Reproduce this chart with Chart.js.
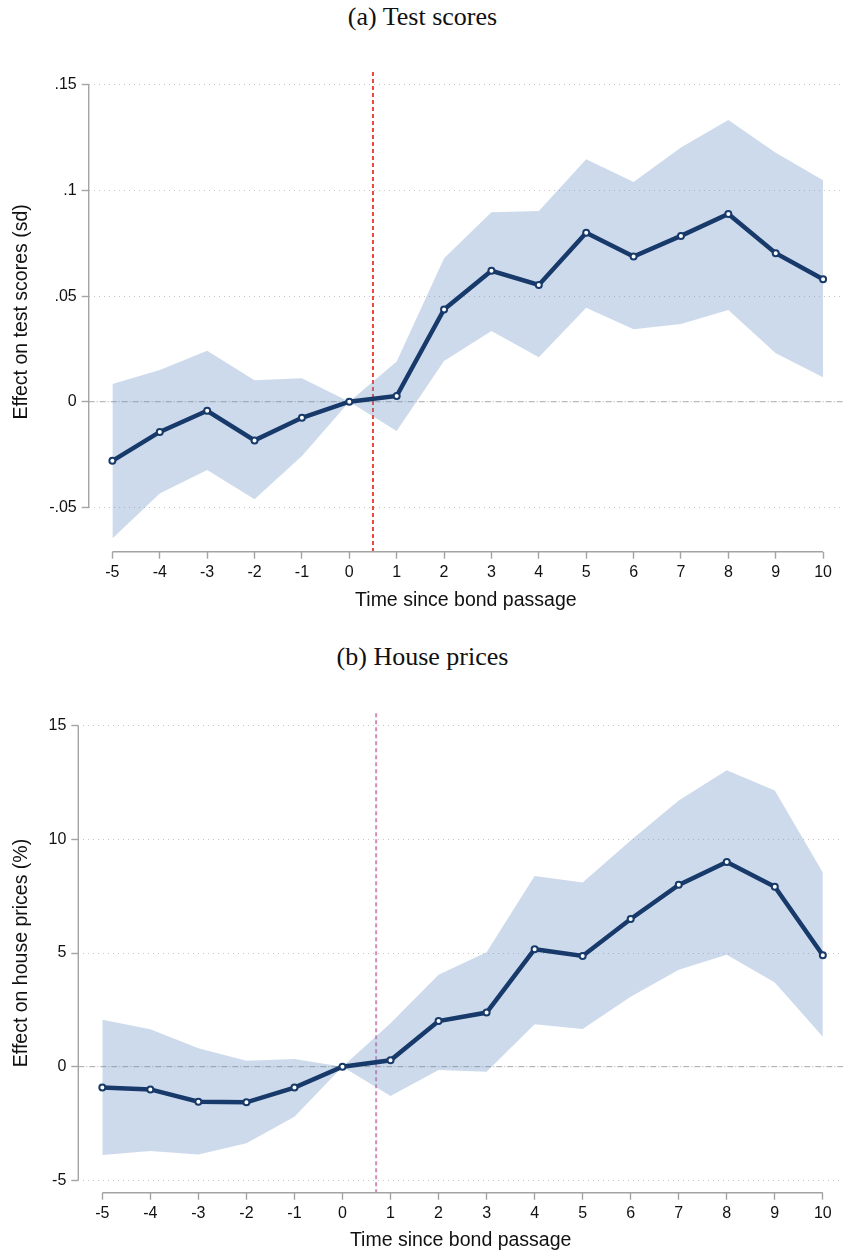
<!DOCTYPE html>
<html>
<head>
<meta charset="utf-8">
<script src="https://cdn.jsdelivr.net/npm/chart.js@4.4.1/dist/chart.umd.min.js"></script>
<style>
    body { margin: 0; background: #fff; overflow: hidden; }
    .panel-title {
        position: absolute; left: 0; width: 845px; text-align: center;
        font-family: "Liberation Serif", "DejaVu Serif", serif; font-size: 26px;
        line-height: 30px; color: #111;
    }
    .chart-box { position: absolute; left: 0; width: 845px; }
</style>
</head>
<body>
<div class="panel-title" style="top:2px">(a) Test scores</div>
<div class="chart-box" style="top:0"><canvas id="testChart" width="845" height="617"></canvas></div>
<div class="panel-title" style="top:642px">(b) House prices</div>
<div class="chart-box" style="top:617px"><canvas id="houseChart" width="845" height="640"></canvas></div>
<script>
// Event time (years since bond passage)
const years = [-5, -4, -3, -2, -1, 0, 1, 2, 3, 4, 5, 6, 7, 8, 9, 10];

// Panel (a): test scores (sd)
const testCoef  = [-0.028, -0.0143, -0.0043, -0.0183, -0.0076, 0, 0.0027, 0.0437, 0.0620, 0.0553, 0.0800, 0.0687, 0.0785, 0.0889, 0.0703, 0.0580];
const testUpper = [0.0084, 0.0150, 0.0241, 0.0102, 0.0111, 0, 0.0190, 0.0679, 0.0897, 0.0903, 0.1148, 0.1040, 0.1203, 0.1334, 0.1179, 0.1048];
const testLower = [-0.0647, -0.0434, -0.0323, -0.0462, -0.0257, 0, -0.0139, 0.0193, 0.0335, 0.0210, 0.0445, 0.0343, 0.0368, 0.0434, 0.0229, 0.0116];
const testTicks = [-0.05, 0, 0.05, 0.1, 0.15];
const testTickLabels = ['-.05', '0', '.05', '.1', '.15'];
const testEventLine = 0.5;

// Panel (b): house prices (%)
const houseCoef  = [-0.92, -1.0, -1.54, -1.57, -0.92, 0, 0.28, 2.01, 2.38, 5.17, 4.87, 6.50, 8.0, 9.01, 7.92, 4.90];
const houseUpper = [2.06, 1.65, 0.81, 0.26, 0.34, 0, 1.91, 4.04, 5.03, 8.39, 8.10, 9.95, 11.71, 13.04, 12.15, 8.54];
const houseLower = [-3.89, -3.71, -3.86, -3.37, -2.2, 0, -1.29, -0.15, -0.22, 1.87, 1.66, 3.08, 4.26, 4.92, 3.70, 1.32];
const houseTicks = [-5, 0, 5, 10, 15];
const houseTickLabels = ['-5', '0', '5', '10', '15'];
const houseEventLine = 0.7;

const axisFont = '"Liberation Sans", Arial, sans-serif';
const navy = '#173a6b';
const bandFill = 'rgba(100, 140, 196, 0.323)';
const axisGray = '#a3a3a3';

// Stata-like axes: lines only over the tick range, zero line, event line
const stataAxes = {
    id: 'stataAxes',
    beforeDatasetsDraw(chart, args, opts) {
        const { ctx, chartArea } = chart;
        const x = chart.scales.x, y = chart.scales.y;
        ctx.save();
        // zero reference line
        ctx.strokeStyle = '#a8a8a8';
        ctx.lineWidth = 1;
        ctx.setLineDash([6, 2, 1, 2]);
        ctx.beginPath();
        ctx.moveTo(chartArea.left, y.getPixelForValue(0));
        ctx.lineTo(chartArea.right, y.getPixelForValue(0));
        ctx.stroke();
        // event line
        ctx.strokeStyle = opts.vlineColor;
        ctx.lineWidth = 2;
        ctx.setLineDash([4, 3]);
        ctx.beginPath();
        ctx.moveTo(x.getPixelForValue(opts.vline), chartArea.top);
        ctx.lineTo(x.getPixelForValue(opts.vline), chartArea.bottom);
        ctx.stroke();
        // axis lines
        ctx.setLineDash([]);
        ctx.strokeStyle = axisGray;
        ctx.lineWidth = 1.4;
        ctx.beginPath();
        ctx.moveTo(chartArea.left, y.getPixelForValue(opts.yFrom));
        ctx.lineTo(chartArea.left, y.getPixelForValue(opts.yTo));
        ctx.moveTo(x.getPixelForValue(years[0]), chartArea.bottom);
        ctx.lineTo(x.getPixelForValue(years[years.length - 1]), chartArea.bottom);
        ctx.stroke();
        ctx.restore();
    }
};

function toPoints(values) {
    return years.map((yr, i) => ({ x: yr, y: values[i] }));
}

function buildChart(canvasId, cfg) {
    const ctx = document.getElementById(canvasId).getContext('2d');
    return new Chart(ctx, {
        type: 'line',
        data: {
            datasets: [
                {
                    label: 'Estimate',
                    data: toPoints(cfg.coef),
                    borderColor: navy,
                    borderWidth: 4.5,
                    pointRadius: 3,
                    pointBorderWidth: 2,
                    pointBackgroundColor: '#ffffff',
                    pointBorderColor: navy,
                    fill: false,
                    tension: 0
                },
                {
                    label: 'Upper CI',
                    data: toPoints(cfg.upper),
                    borderWidth: 0,
                    pointRadius: 0,
                    backgroundColor: bandFill,
                    fill: '+1'
                },
                {
                    label: 'Lower CI',
                    data: toPoints(cfg.lower),
                    borderWidth: 0,
                    pointRadius: 0,
                    fill: false
                }
            ]
        },
        options: {
            responsive: false,
            animation: false,
            events: [],
            layout: { autoPadding: false, padding: { top: cfg.padTop, right: 2, bottom: 0, left: 0 } },
            plugins: {
                legend: { display: false },
                tooltip: { enabled: false },
                stataAxes: {
                    vline: cfg.vline, vlineColor: cfg.vlineColor,
                    yFrom: cfg.ticks[0], yTo: cfg.ticks[cfg.ticks.length - 1]
                }
            },
            scales: {
                x: {
                    type: 'linear',
                    min: -5.5,
                    max: 10.42,
                    afterBuildTicks: axis => { axis.ticks = years.map(v => ({ value: v })); },
                    afterFit: axis => { axis.height = cfg.xHeight; },
                    grid: { display: true, drawOnChartArea: false, drawTicks: true, tickLength: 7, tickColor: axisGray, tickWidth: 1.4 },
                    border: { display: false },
                    ticks: { padding: 4, color: '#111', font: { family: axisFont, size: 16 }, maxRotation: 0, callback: v => String(v) },
                    title: { display: true, text: 'Time since bond passage', color: '#111', font: { family: axisFont, size: 19.5 }, padding: { top: 0, bottom: 4.5 } }
                },
                y: {
                    min: cfg.yMin,
                    max: cfg.yMax,
                    afterBuildTicks: axis => { axis.ticks = cfg.ticks.map(v => ({ value: v })); },
                    afterFit: axis => { axis.width = cfg.yWidth; },
                    grid: {
                        display: true,
                        drawTicks: true,
                        tickLength: 7,
                        tickColor: axisGray,
                        tickWidth: 1.4,
                        lineWidth: 1,
                        color: c => (c.tick && c.tick.value === 0) ? 'rgba(0,0,0,0)' : '#c4c4c4'
                    },
                    border: { display: false, dash: [1, 4] },
                    ticks: {
                        padding: 5,
                        color: '#111',
                        font: { family: axisFont, size: 16 },
                        callback: (v) => cfg.tickLabels[cfg.ticks.indexOf(v)] ?? ''
                    },
                    title: { display: true, text: cfg.yTitle, color: '#111', font: { family: axisFont, size: 19.5 }, padding: { top: 10.3, bottom: 0 } }
                }
            }
        },
        plugins: [stataAxes]
    });
}

document.addEventListener('DOMContentLoaded', () => {
    // Panel (a)
    buildChart('testChart', {
        coef: testCoef, upper: testUpper, lower: testLower,
        ticks: testTicks, tickLabels: testTickLabels,
        yMin: -0.0710, yMax: 0.1561,
        padTop: 72, xHeight: 65.3, yWidth: 88.7,
        vline: testEventLine, vlineColor: '#ee463c',
        yTitle: 'Effect on test scores (sd)'
    });

    // Panel (b)
    buildChart('houseChart', {
        coef: houseCoef, upper: houseUpper, lower: houseLower,
        ticks: houseTicks, tickLabels: houseTickLabels,
        yMin: -5.546, yMax: 15.55,
        padTop: 96.3, xHeight: 64.3, yWidth: 78.3,
        vline: houseEventLine, vlineColor: '#d68cb8',
        yTitle: 'Effect on house prices (%)'
    });
});
</script>
</body>
</html>
